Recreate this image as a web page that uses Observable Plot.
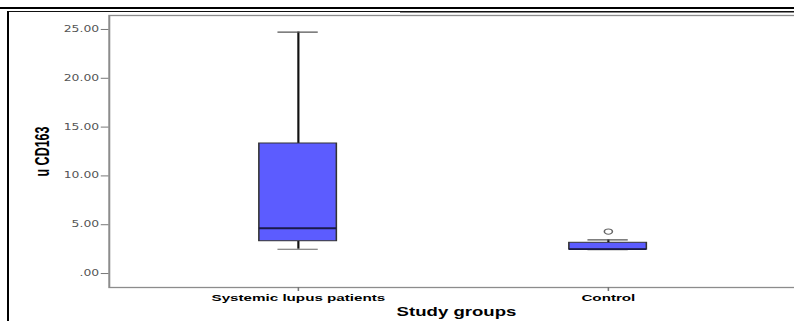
<!DOCTYPE html>
<html>
<head>
<meta charset="utf-8">
<script src="https://cdn.jsdelivr.net/npm/d3@7"></script>
<script src="https://cdn.jsdelivr.net/npm/@observablehq/plot@0.6"></script>
<style>
  html, body { margin: 0; padding: 0; background: #fff; overflow: hidden; }
  #wrap { position: relative; width: 794px; height: 321px; overflow: hidden; }
  #chart { position: absolute; left: 0; top: 0; transform-origin: 0 0; transform: scaleX(1.55); }
  .deco { position: absolute; }
</style>
</head>
<body>
<div id="wrap">
  <div id="chart"></div>
  <div class="deco" style="left:0;top:7px;width:794px;height:2px;background:#000"></div>
  <div class="deco" style="left:7px;top:10.5px;width:787px;height:1px;background:#111"></div>
  <div class="deco" style="left:400px;top:12px;width:394px;height:1px;background:#888"></div>
  <div class="deco" style="left:7px;top:10.5px;width:2px;height:311px;background:#000"></div>
</div>
<script>
// ---- data ----
const groups = ["Systemic lupus patients", "Control"];
const mins    = [2.49, 2.45];
const q1s     = [3.31, 2.45];
const medians = [4.64, 2.50];
const q3s     = [13.32, 3.15];
const maxs    = [24.73, 3.45];
const outlierGroups = ["Control"];
const outlierValues = [4.3];
const yTicks = [0, 5, 10, 15, 20, 25];
const yTickLabels = [".00", "5.00", "10.00", "15.00", "20.00", "25.00"];
const yLabel = "u CD163";
const xLabel = "Study groups";

const boxes = groups.map((g, i) => ({
  group: g, min: mins[i], q1: q1s[i], median: medians[i], q3: q3s[i], max: maxs[i]
}));
const outliers = outlierGroups.map((g, i) => ({group: g, value: outlierValues[i]}));

const chart = Plot.plot({
  width: 520,
  height: 321,
  marginLeft: 70,
  marginRight: 0,
  marginTop: 15,
  marginBottom: 34,
  style: {fontFamily: "Liberation Sans, Arial, sans-serif", background: "transparent", overflow: "visible"},
  x: {type: "band", domain: groups, range: [92.3, 492.3], paddingInner: 0.75, paddingOuter: 0.375},
  y: {domain: [-1.43, 26.43]},
  marks: [
    Plot.frame({stroke: "#8c8c8c", strokeWidth: 1.3}),
    Plot.axisY({ticks: yTicks, tickFormat: d => yTickLabels[yTicks.indexOf(d)], tickSize: 5, tickPadding: 1.5,
      fontSize: 8, fontFamily: "DejaVu Sans, Verdana, sans-serif", fill: "#555", stroke: "#777", label: null}),
    Plot.axisX({tickSize: 4, tickPadding: 3, fontSize: 9.8, fontWeight: "bold", fill: "#000", stroke: "#777", label: null}),
    Plot.ruleX(boxes, {x: "group", y1: "q3", y2: "max", stroke: "#111", strokeWidth: 1.4}),
    Plot.ruleX(boxes, {x: "group", y1: "min", y2: "q1", stroke: "#111", strokeWidth: 1.4}),
    Plot.tickY(boxes, {x: "group", y: "max", stroke: "#555", strokeWidth: 1.2, insetLeft: 12, insetRight: 12}),
    Plot.tickY(boxes, {x: "group", y: "min", stroke: "#666", strokeWidth: 1.2, insetLeft: 12, insetRight: 12}),
    Plot.barY(boxes, {x: "group", y1: "q1", y2: "q3", fill: "#5c5cff", stroke: "#333", strokeWidth: 1}),
    Plot.tickY(boxes, {x: "group", y: "median", stroke: "#1a1a4a", strokeWidth: 1.8}),
    Plot.dot(outliers, {x: "group", y: "value", r: 2.6, stroke: "#666", strokeWidth: 1, fill: "white"}),
    Plot.text([yLabel], {text: d => d, frameAnchor: "left", dx: -43, rotate: -90, textAnchor: "middle",
      lineAnchor: "middle", fontWeight: "bold", fontSize: 12.5, fill: "#000"}),
    Plot.text([xLabel], {text: d => d, frameAnchor: "bottom", dx: -1, dy: 25, textAnchor: "middle",
      lineAnchor: "middle", fontWeight: "bold", fontSize: 12, fill: "#000"})
  ]
});
document.getElementById("chart").appendChild(chart);
</script>
</body>
</html>
